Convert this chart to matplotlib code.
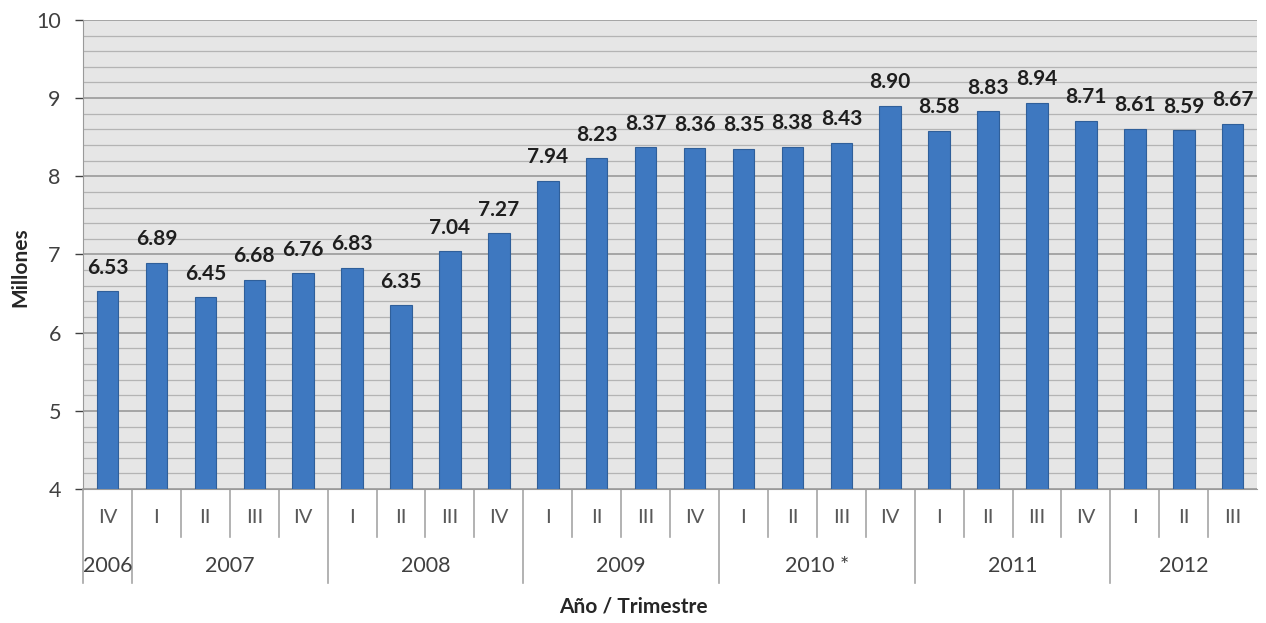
import matplotlib.pyplot as plt
import numpy as np

plt.rcParams['font.family'] = ['Lato', 'DejaVu Sans']

# Quarterly values (millions)
quarters = ['IV'] + ['I', 'II', 'III', 'IV'] * 5 + ['I', 'II', 'III']
values = [6.53, 6.89, 6.45, 6.68, 6.76, 6.83, 6.35, 7.04, 7.27, 7.94, 8.23, 8.37, 8.36,
          8.35, 8.38, 8.43, 8.90, 8.58, 8.83, 8.94, 8.71, 8.61, 8.59, 8.67]
years = ['2006', '2007', '2008', '2009', '2010 *', '2011', '2012']
year_counts = [1, 4, 4, 4, 4, 4, 3]

n = len(values)
x = np.arange(n)

fig = plt.figure(figsize=(12.66, 6.23), dpi=100)
ax = fig.add_axes([0.0656, 0.215, 0.9274, 0.753])
ax.set_facecolor('#e6e6e6')

ax.bar(x, values, width=0.44, bottom=0, color='#3e78c0', edgecolor='#2f5f9a',
       linewidth=0.8, zorder=3)

for xi, v in zip(x, values):
    ax.annotate(f'{v:.2f}', (xi, v), xytext=(0, 17), textcoords='offset points',
                ha='center', va='center', fontsize=15, fontweight='bold',
                color='#1e1e1e', zorder=4)

ax.set_xlim(-0.5, n - 0.5)
ax.set_ylim(4, 10)
ax.set_yticks(range(4, 11))
ax.set_yticks(np.arange(4, 10.01, 0.2), minor=True)
ax.tick_params(axis='y', which='major', labelsize=15.5, colors='#404040', length=6,
               width=1, pad=10)
ax.tick_params(axis='y', which='minor', length=0)
ax.tick_params(axis='x', which='both', length=0, labelbottom=False)
ax.grid(axis='y', which='major', color='#9a9a9a', linewidth=1.2, zorder=1)
ax.grid(axis='y', which='minor', color='#b4b4b4', linewidth=0.9, zorder=1)

for side in ['top', 'right']:
    ax.spines[side].set_visible(False)
ax.spines['left'].set_color('#9a9a9a')
ax.spines['bottom'].set_color('#9a9a9a')

# Two-level category axis: quarters, then years
trans = ax.get_xaxis_transform()
for xi, q in zip(x, quarters):
    ax.text(xi, -0.06, q, transform=trans, ha='center', va='center',
            fontsize=14.5, color='#595959', clip_on=False)

boundaries = np.cumsum([0] + year_counts) - 0.5
for b in np.arange(-0.5, n - 0.5):
    depth = -0.2 if b in boundaries else -0.102
    ax.plot([b, b], [0, depth], transform=trans, color='#a6a6a6', linewidth=1.2,
            clip_on=False)

for yr, start, cnt in zip(years, boundaries[:-1], year_counts):
    ax.text(start + cnt / 2, -0.164, yr, transform=trans, ha='center', va='center',
            fontsize=15.5, color='#404040', clip_on=False)

fig.text(0.016, 0.571, 'Millones', rotation=90, ha='center', va='center',
         fontsize=15, fontweight='bold', color='#262626')
fig.text(0.5, 0.027, 'Año / Trimestre', ha='center', va='center',
         fontsize=15, fontweight='bold', color='#262626')

fig.savefig('out.png', dpi=100)
